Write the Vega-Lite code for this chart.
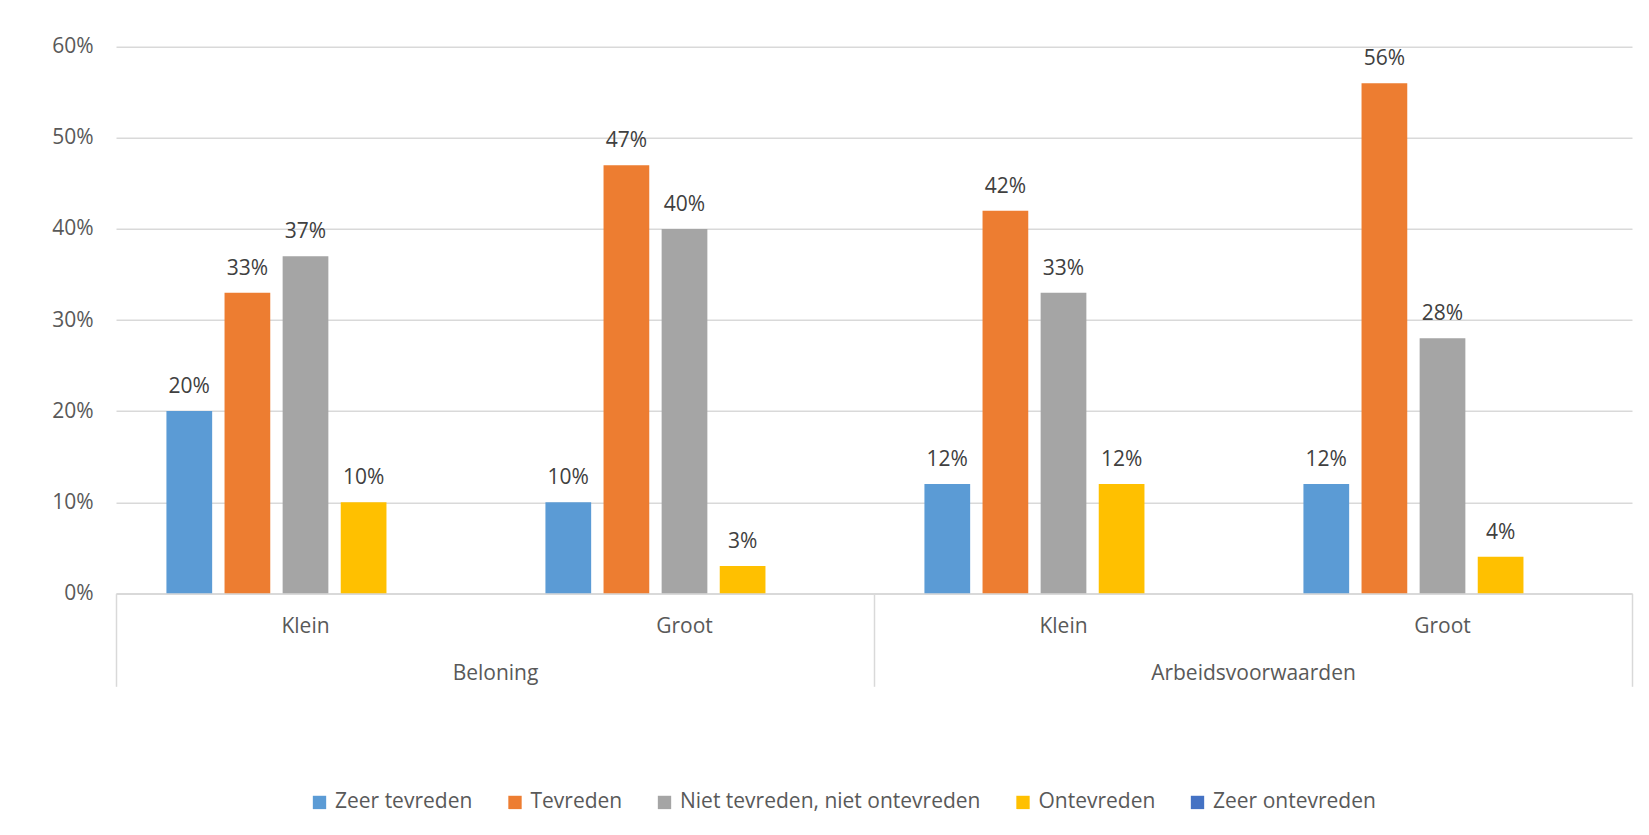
{
  "$schema": "https://vega.github.io/schema/vega-lite/v6.json",
  "autosize": {"type": "none"},
  "width": 1516,
  "height": 546.6,
  "padding": {"left": 116, "top": 46.7, "right": 17, "bottom": 241.7},
  "background": "white",
  "config": {
    "font": "Open Sans",
    "view": {"stroke": null},
    "axis": {"labelFont": "Open Sans", "labelFontSize": 21, "labelColor": "#595959", "labelLimit": 0}
  },
  "data": {
    "values": [
      {"aspect": "Beloning", "size": "Klein", "cat": "Beloning|Klein", "series": "Zeer tevreden", "value": 0.20},
      {"aspect": "Beloning", "size": "Klein", "cat": "Beloning|Klein", "series": "Tevreden", "value": 0.33},
      {"aspect": "Beloning", "size": "Klein", "cat": "Beloning|Klein", "series": "Niet tevreden, niet ontevreden", "value": 0.37},
      {"aspect": "Beloning", "size": "Klein", "cat": "Beloning|Klein", "series": "Ontevreden", "value": 0.10},
      {"aspect": "Beloning", "size": "Klein", "cat": "Beloning|Klein", "series": "Zeer ontevreden", "value": 0},
      {"aspect": "Beloning", "size": "Groot", "cat": "Beloning|Groot", "series": "Zeer tevreden", "value": 0.10},
      {"aspect": "Beloning", "size": "Groot", "cat": "Beloning|Groot", "series": "Tevreden", "value": 0.47},
      {"aspect": "Beloning", "size": "Groot", "cat": "Beloning|Groot", "series": "Niet tevreden, niet ontevreden", "value": 0.40},
      {"aspect": "Beloning", "size": "Groot", "cat": "Beloning|Groot", "series": "Ontevreden", "value": 0.03},
      {"aspect": "Beloning", "size": "Groot", "cat": "Beloning|Groot", "series": "Zeer ontevreden", "value": 0},
      {"aspect": "Arbeidsvoorwaarden", "size": "Klein", "cat": "Arbeidsvoorwaarden|Klein", "series": "Zeer tevreden", "value": 0.12},
      {"aspect": "Arbeidsvoorwaarden", "size": "Klein", "cat": "Arbeidsvoorwaarden|Klein", "series": "Tevreden", "value": 0.42},
      {"aspect": "Arbeidsvoorwaarden", "size": "Klein", "cat": "Arbeidsvoorwaarden|Klein", "series": "Niet tevreden, niet ontevreden", "value": 0.33},
      {"aspect": "Arbeidsvoorwaarden", "size": "Klein", "cat": "Arbeidsvoorwaarden|Klein", "series": "Ontevreden", "value": 0.12},
      {"aspect": "Arbeidsvoorwaarden", "size": "Klein", "cat": "Arbeidsvoorwaarden|Klein", "series": "Zeer ontevreden", "value": 0},
      {"aspect": "Arbeidsvoorwaarden", "size": "Groot", "cat": "Arbeidsvoorwaarden|Groot", "series": "Zeer tevreden", "value": 0.12},
      {"aspect": "Arbeidsvoorwaarden", "size": "Groot", "cat": "Arbeidsvoorwaarden|Groot", "series": "Tevreden", "value": 0.56},
      {"aspect": "Arbeidsvoorwaarden", "size": "Groot", "cat": "Arbeidsvoorwaarden|Groot", "series": "Niet tevreden, niet ontevreden", "value": 0.28},
      {"aspect": "Arbeidsvoorwaarden", "size": "Groot", "cat": "Arbeidsvoorwaarden|Groot", "series": "Ontevreden", "value": 0.04},
      {"aspect": "Arbeidsvoorwaarden", "size": "Groot", "cat": "Arbeidsvoorwaarden|Groot", "series": "Zeer ontevreden", "value": 0}
    ]
  },
  "layer": [
    {
      "encoding": {
        "x": {
          "field": "cat",
          "type": "nominal",
          "scale": {"domain": ["Beloning|Klein", "Beloning|Groot", "Arbeidsvoorwaarden|Klein", "Arbeidsvoorwaarden|Groot"], "paddingInner": 0, "paddingOuter": 0},
          "axis": {
            "orient": "bottom",
            "title": null,
            "labelAngle": 0,
            "ticks": false,
            "domain": true,
            "domainColor": "#d9d9d9",
            "domainWidth": 1.5,
            "labelPadding": 22,
            "labelExpr": "split(datum.label, '|')[1]"
          }
        },
        "xOffset": {
          "field": "series",
          "type": "nominal",
          "scale": {"domain": ["Zeer tevreden", "Tevreden", "Niet tevreden, niet ontevreden", "Ontevreden", "Zeer ontevreden"], "paddingInner": 0.213, "paddingOuter": 0.868}
        },
        "y": {
          "field": "value",
          "type": "quantitative",
          "scale": {"domain": [0, 0.6], "nice": false},
          "axis": {
            "title": null,
            "values": [0, 0.1, 0.2, 0.3, 0.4, 0.5, 0.6],
            "format": ".0%",
            "ticks": false,
            "domain": false,
            "grid": true,
            "gridColor": "#d9d9d9",
            "gridWidth": 1.5,
            "labelPadding": 23
          }
        }
      },
      "layer": [
        {
          "mark": {"type": "bar"},
          "encoding": {
            "color": {
              "field": "series",
              "type": "nominal",
              "scale": {
                "domain": ["Zeer tevreden", "Tevreden", "Niet tevreden, niet ontevreden", "Ontevreden", "Zeer ontevreden"],
                "range": ["#5B9BD5", "#ED7D31", "#A5A5A5", "#FFC000", "#4472C4"]
              },
              "legend": {
                "title": null,
                "orient": "none",
                "direction": "horizontal",
                "legendX": 193,
                "legendY": 745,
                "symbolType": "square",
                "symbolSize": 178,
                "symbolStrokeWidth": 0,
                "labelFont": "Open Sans",
                "labelFontSize": 21,
                "labelColor": "#595959",
                "labelOffset": 5,
                "labelLimit": 0,
                "columnPadding": 31.5
              }
            }
          }
        },
        {
          "transform": [{"filter": "datum.value > 0"}],
          "mark": {"type": "text", "baseline": "alphabetic", "dy": -18, "fontSize": 21, "color": "#404040", "font": "Open Sans"},
          "encoding": {
            "text": {"field": "value", "type": "quantitative", "format": ".0%"}
          }
        }
      ]
    },
    {
      "mark": {"type": "bar", "opacity": 0},
      "encoding": {
        "x": {
          "field": "aspect",
          "type": "nominal",
          "scale": {"domain": ["Beloning", "Arbeidsvoorwaarden"], "paddingInner": 0, "paddingOuter": 0},
          "axis": {
            "orient": "bottom",
            "title": null,
            "labelAngle": 0,
            "labelLimit": 0,
            "domain": false,
            "ticks": true,
            "tickBand": "extent",
            "tickSize": 93,
            "tickColor": "#d9d9d9",
            "tickWidth": 1.5,
            "labelPadding": -24
          }
        },
        "y": {"field": "value", "type": "quantitative"}
      }
    }
  ],
  "resolve": {"scale": {"x": "independent"}, "axis": {"x": "independent"}}
}
